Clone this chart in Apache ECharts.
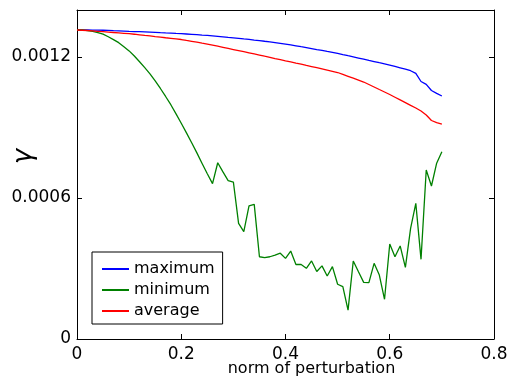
<!DOCTYPE html>
<html>
<head>
<meta charset="utf-8">
<script src="https://cdn.jsdelivr.net/npm/echarts@6/dist/echarts.min.js"></script>
<style>
  html, body { margin: 0; padding: 0; background: #fff; }
  #chart { width: 509px; height: 385px; }
</style>
</head>
<body>
<div id="chart"></div>
<script>
// norm of perturbation (x), sampled every 0.01
const norms = [
  0.00, 0.01, 0.02, 0.03, 0.04, 0.05, 0.06, 0.07, 0.08, 0.09,
  0.10, 0.11, 0.12, 0.13, 0.14, 0.15, 0.16, 0.17, 0.18, 0.19,
  0.20, 0.21, 0.22, 0.23, 0.24, 0.25, 0.26, 0.27, 0.28, 0.29,
  0.30, 0.31, 0.32, 0.33, 0.34, 0.35, 0.36, 0.37, 0.38, 0.39,
  0.40, 0.41, 0.42, 0.43, 0.44, 0.45, 0.46, 0.47, 0.48, 0.49,
  0.50, 0.51, 0.52, 0.53, 0.54, 0.55, 0.56, 0.57, 0.58, 0.59,
  0.60, 0.61, 0.62, 0.63, 0.64, 0.65, 0.66, 0.67, 0.68, 0.69,
  0.70
];

const maximum = [
  0.0013148, 0.0013148, 0.0013148, 0.0013144, 0.0013144, 0.0013139, 0.0013131, 0.0013122, 0.0013114, 0.0013105,
  0.0013093, 0.0013084, 0.0013076, 0.0013067, 0.0013059, 0.0013050, 0.0013037, 0.0013025, 0.0013016, 0.0013003,
  0.0012991, 0.0012978, 0.0012965, 0.0012952, 0.0012935, 0.0012922, 0.0012901, 0.0012880, 0.0012859, 0.0012837,
  0.0012816, 0.0012795, 0.0012769, 0.0012748, 0.0012722, 0.0012701, 0.0012671, 0.0012642, 0.0012612, 0.0012582,
  0.0012552, 0.0012514, 0.0012476, 0.0012437, 0.0012399, 0.0012361, 0.0012318, 0.0012280, 0.0012237, 0.0012199,
  0.0012157, 0.0012105, 0.0012054, 0.0012008, 0.0011957, 0.0011906, 0.0011854, 0.0011808, 0.0011757, 0.0011710,
  0.0011659, 0.0011599, 0.0011540, 0.0011480, 0.0011416, 0.0011306, 0.0010957, 0.0010837, 0.0010574, 0.0010455,
  0.0010340
];

const minimum = [
  0.001315, 0.001315, 0.001312, 0.001309, 0.001304, 0.001297, 0.001286, 0.001274, 0.001261, 0.001244,
  0.001226, 0.001204, 0.001180, 0.001155, 0.001128, 0.001098, 0.001066, 0.001032, 0.000997, 0.000958,
  0.000918, 0.000877, 0.000835, 0.000792, 0.000747, 0.000703, 0.000661, 0.000750, 0.000711, 0.000674,
  0.000668, 0.000492, 0.000457, 0.000566, 0.000573, 0.000350, 0.000346, 0.000350, 0.000357, 0.000365,
  0.000343, 0.000374, 0.000317, 0.000317, 0.000301, 0.000332, 0.000287, 0.000311, 0.000268, 0.000308,
  0.000233, 0.000223, 0.000123, 0.000332, 0.000286, 0.000241, 0.000240, 0.000322, 0.000272, 0.000169,
  0.000404, 0.000350, 0.000396, 0.000305, 0.000471, 0.000577, 0.000339, 0.000719, 0.000651, 0.000748,
  0.000797
];

const average = [
  0.0013148, 0.0013139, 0.0013127, 0.0013110, 0.0013093, 0.0013076, 0.0013059, 0.0013042, 0.0013025, 0.0013008,
  0.0012991, 0.0012969, 0.0012944, 0.0012918, 0.0012897, 0.0012871, 0.0012846, 0.0012820, 0.0012795, 0.0012769,
  0.0012744, 0.0012705, 0.0012667, 0.0012629, 0.0012590, 0.0012552, 0.0012505, 0.0012459, 0.0012412, 0.0012365,
  0.0012318, 0.0012271, 0.0012225, 0.0012178, 0.0012131, 0.0012084, 0.0012033, 0.0011986, 0.0011935, 0.0011888,
  0.0011837, 0.0011791, 0.0011740, 0.0011693, 0.0011642, 0.0011595, 0.0011544, 0.0011493, 0.0011442, 0.0011391,
  0.0011340, 0.0011259, 0.0011178, 0.0011097, 0.0011016, 0.0010935, 0.0010829, 0.0010723, 0.0010616, 0.0010510,
  0.0010403, 0.0010289, 0.0010174, 0.0010059, 0.0009944, 0.0009829, 0.0009701, 0.0009531, 0.0009297, 0.0009204,
  0.0009148
];

const seriesNames = ['maximum', 'minimum', 'average'];
const seriesColors = ['#0000ff', '#008000', '#ff0000'];

const chart = echarts.init(document.getElementById('chart'), null, { renderer: 'canvas' });

const pairs = (ys) => norms.map((x, i) => [x, ys[i]]);
const font = 'DejaVu Sans';

const xTickFmt = (v) => (v === 0 ? '0' : v.toFixed(1));
const yTickFmt = (v) => (v === 0 ? '0' : v.toFixed(4));

// frame axes (top / right) only draw the box and inward ticks
const frameLine = { show: true, onZero: false, lineStyle: { color: '#000', width: 1 } };
const tick = { show: true, inside: true, length: 5, lineStyle: { color: '#000' } };

chart.setOption({
  animation: false,
  backgroundColor: '#fff',
  grid: { left: 77, right: 15, top: 10, bottom: 46, containLabel: false, outerBoundsMode: 'none' },
  legend: {
    data: seriesNames,
    orient: 'vertical',
    left: 92,
    top: 252,
    padding: [9, 8, 5, 10],
    itemGap: 5,
    itemWidth: 27,
    itemHeight: 2,
    icon: 'rect',
    borderColor: '#000',
    borderWidth: 1,
    backgroundColor: '#fff',
    textStyle: { fontFamily: font, fontSize: 16, color: '#000', lineHeight: 16 },
  },
  xAxis: [
    {
      type: 'value',
      min: 0,
      max: 0.8,
      interval: 0.2,
      name: 'norm of perturbation',
      nameLocation: 'middle',
      nameGap: 22,
      nameMoveOverlap: false,
      nameTextStyle: { fontFamily: font, fontSize: 16, color: '#000', padding: [0, 0, 0, 52] },
      axisLine: frameLine,
      axisTick: tick,
      axisLabel: { formatter: xTickFmt, fontFamily: font, fontSize: 17, color: '#000', margin: 7 },
      splitLine: { show: false },
    },
    {
      type: 'value',
      position: 'top',
      min: 0,
      max: 0.8,
      interval: 0.2,
      axisLine: frameLine,
      axisTick: tick,
      axisLabel: { show: false },
      splitLine: { show: false },
    },
  ],
  yAxis: [
    {
      type: 'value',
      min: 0,
      max: 0.0014,
      interval: 0.0006,
      name: 'γ',
      nameLocation: 'middle',
      nameGap: 40,
      nameMoveOverlap: false,
      nameTextStyle: { fontFamily: font, fontStyle: 'italic', fontSize: 26, color: '#000', padding: [0, 0, 0, 36] },
      axisLine: frameLine,
      axisTick: tick,
      axisLabel: { formatter: yTickFmt, showMaxLabel: false, fontFamily: font, fontSize: 17, color: '#000', margin: 6 },
      splitLine: { show: false },
    },
    {
      type: 'value',
      position: 'right',
      min: 0,
      max: 0.0014,
      interval: 0.0006,
      axisLine: frameLine,
      axisTick: tick,
      axisLabel: { show: false },
      splitLine: { show: false },
    },
  ],
  series: [
    { name: 'maximum', data: pairs(maximum) },
    { name: 'minimum', data: pairs(minimum) },
    { name: 'average', data: pairs(average) },
  ].map((s, i) => ({
    ...s,
    type: 'line',
    xAxisIndex: 0,
    yAxisIndex: 0,
    symbol: 'none',
    color: seriesColors[i],
    lineStyle: { color: seriesColors[i], width: 1.3 },
  })),
});
</script>
</body>
</html>
